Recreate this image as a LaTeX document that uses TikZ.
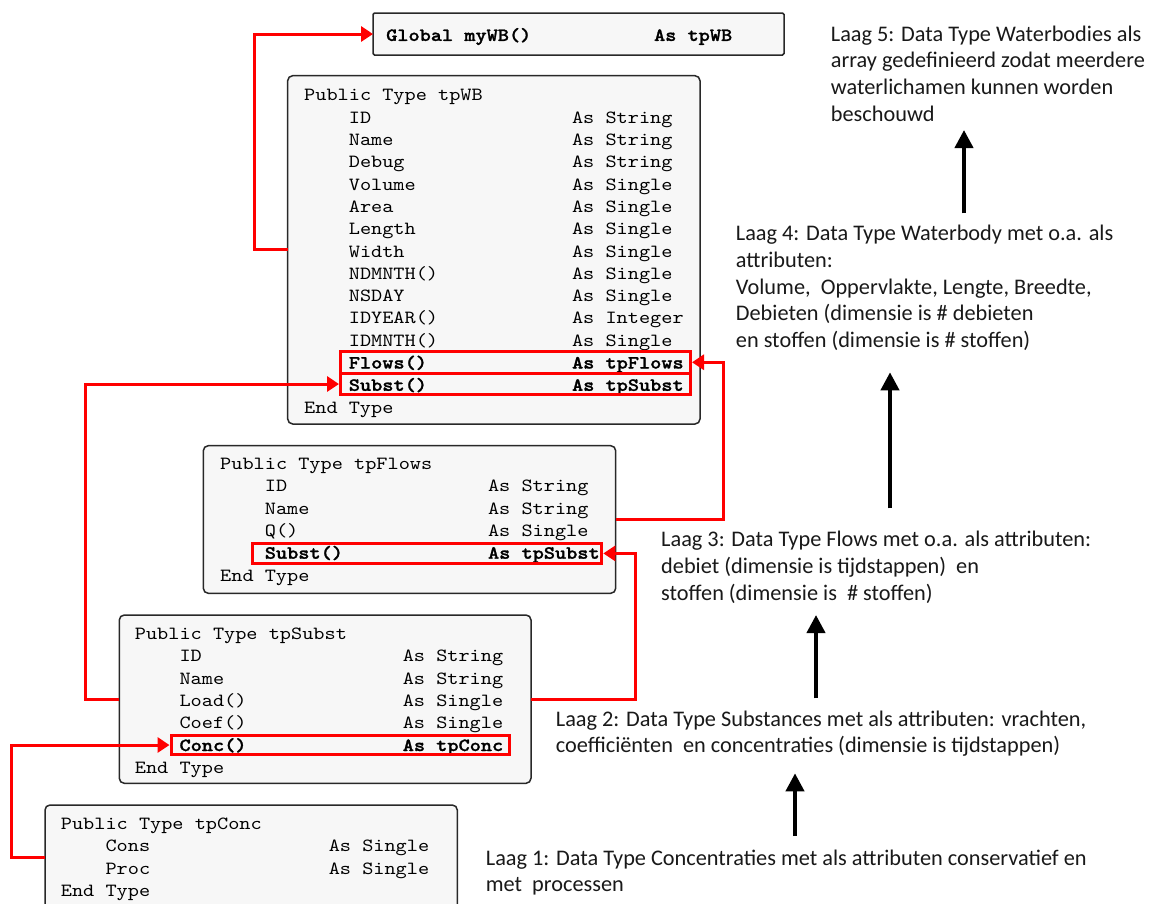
\documentclass[tikz,border=0pt]{standalone}
\usepackage{fontspec}
\setmonofont{lmmono10-regular.otf}[FakeStretch=1.143, BoldFont=lmmonolt10-bold.otf,
  BoldFeatures={FakeBold=1.3}]
\newfontfamily\notefont{Carlito}
\usetikzlibrary{arrows.meta}

\definecolor{boxfill}{RGB}{247,247,247}
\definecolor{boxline}{RGB}{40,40,40}
\definecolor{linkred}{RGB}{255,0,0}
\definecolor{notetext}{RGB}{25,25,25}

% code listing: 24-character column for the type, fields indented by 4
\newcommand\codefont{\ttfamily\fontsize{18.6}{22.3}\selectfont}
\newcommand\notesize{\notefont\fontsize{22.3}{26.6}\selectfont}
\newlength\chw
\newcommand\fld[2]{\settowidth\chw{x}\hspace*{4\chw}\makebox[20\chw][l]{#1}#2}
\newcommand\bfld[2]{\settowidth\chw{x}\hspace*{4\chw}\makebox[20\chw][l]{\bfseries #1}{\bfseries #2}}

\tikzset{
  codebox/.style={draw=boxline, fill=boxfill, line width=1.5pt, rounded corners=5pt,
    inner sep=0pt, outer sep=0pt, rectangle},
  codetext/.style={inner sep=0pt, anchor=north west, font=\codefont, text=black},
  hlbox/.style={draw=linkred, line width=3pt, inner sep=0pt, rectangle},
  redlink/.style={draw=linkred, line width=3pt,
    -{Triangle[length=12pt,width=15pt]}},
  uparrow/.style={draw=black, line width=4pt,
    -{Triangle[length=18pt,width=18pt]}},
  note/.style={inner sep=0pt, anchor=north west, font=\notesize, text=notetext},
}

\begin{document}
\begin{tikzpicture}[x=1pt, y=-1pt]
\fill[white] (0,0) rectangle (1149,903);
\clip (0,0) rectangle (1149,903);

% ---- Global declaration ----
\node[codebox, rounded corners=1.5pt, minimum width=411pt, minimum height=42pt] (glob) at (578.5,34) {};
\node[codetext] (globtxt) at (386,25.1)
  {\begin{tabular}{@{}l@{}}\settowidth\chw{x}\bfseries\makebox[24\chw][l]{Global myWB()}As tpWB\end{tabular}};

% ---- tpWB ----
\node[codebox, minimum width=412.3pt, minimum height=348.3pt] (wb) at (493.85,249.85) {};
\node[codetext] (wbtxt) at (304,85.1) {\begin{tabular}{@{}l@{}}
Public Type tpWB\\
\fld{ID}{As String}\\
\fld{Name}{As String}\\
\fld{Debug}{As String}\\
\fld{Volume}{As Single}\\
\fld{Area}{As Single}\\
\fld{Length}{As Single}\\
\fld{Width}{As Single}\\
\fld{NDMNTH()}{As Single}\\
\fld{NSDAY}{As Single}\\
\fld{IDYEAR()}{As Integer}\\
\fld{IDMNTH()}{As Single}\\
\bfld{Flows()}{As tpFlows}\\
\bfld{Subst()}{As tpSubst}\\
End Type
\end{tabular}};

% ---- tpFlows ----
\node[codebox, minimum width=412.4pt, minimum height=147.6pt] (flows) at (409.5,519.5) {};
\node[codetext] (flowstxt) at (220,453.7) {\begin{tabular}{@{}l@{}}
Public Type tpFlows\\
\fld{ID}{As String}\\
\fld{Name}{As String}\\
\fld{Q()}{As Single}\\
\bfld{Subst()}{As tpSubst}\\
End Type
\end{tabular}};

% ---- tpSubst ----
\node[codebox, minimum width=411.7pt, minimum height=168.3pt] (subst) at (325.15,699.15) {};
\node[codetext] (substtxt) at (134.7,623.7) {\begin{tabular}{@{}l@{}}
Public Type tpSubst\\
\fld{ID}{As String}\\
\fld{Name}{As String}\\
\fld{Load()}{As Single}\\
\fld{Coef()}{As Single}\\
\bfld{Conc()}{As tpConc}\\
End Type
\end{tabular}};

% ---- tpConc ----
\node[codebox, minimum width=412.3pt, minimum height=104.6pt] (conc) at (251.15,857.3) {};
\node[codetext] (conctxt) at (60.7,813.7) {\begin{tabular}{@{}l@{}}
Public Type tpConc\\
\fld{Cons}{As Single}\\
\fld{Proc}{As Single}\\
End Type
\end{tabular}};

% ---- highlighted members ----
\node[hlbox, minimum width=350pt, minimum height=22.5pt] (hlWBflows) at (515.5,362.25) {};
\node[hlbox, minimum width=350pt, minimum height=21pt] (hlWBsubst) at (515.5,384) {};
\node[hlbox, minimum width=349.3pt, minimum height=20.3pt] (hlFsubst) at (427.2,553.4) {};
\node[hlbox, minimum width=338pt, minimum height=19pt] (hlconc) at (340,745) {};

% ---- type references ----
\draw[redlink] (wb.west) -- ++(-33.4,0) |- (glob.west);
\draw[redlink] (subst.west) -- ++(-34.3,0) |- (hlWBsubst.west);
\draw[redlink] (flows.east) -- ++(107.3,0) |- (hlWBflows.east);
\draw[redlink] (subst.east) -- ++(104,0) |- (hlFsubst.east);
\draw[redlink] (conc.west) -- ++(-33.3,0) |- (hlconc.west);

% ---- layer descriptions ----
\node[note] (laag5) at (830.7,22.4) {\begin{tabular}{@{}l@{}}
Laag 5: Data Type Waterbodies als\\
array gedefinieerd zodat meerdere\\
waterlichamen kunnen worden\\
beschouwd
\end{tabular}};
\node[note] (laag4) at (735.7,222.1) {\begin{tabular}{@{}l@{}}
Laag 4: Data Type Waterbody met o.a. als\\
attributen:\\
Volume,\ \ Oppervlakte, Lengte, Breedte,\\
Debieten (dimensie is \# debieten\\
en stoffen (dimensie is \# stoffen)
\end{tabular}};
\node[note] (laag3) at (661,528.1) {\begin{tabular}{@{}l@{}}
Laag 3: Data Type Flows met o.a. als attributen:\\
debiet (dimensie is tijdstappen)\ \ en\\
stoffen (dimensie is\ \ \# stoffen)
\end{tabular}};
\node[note] (laag2) at (555.7,707.4) {\begin{tabular}{@{}l@{}}
Laag 2: Data Type Substances met als attributen: vrachten,\\
coefficiënten\ \ en concentraties (dimensie is tijdstappen)
\end{tabular}};
\node[note] (laag1) at (485.7,846.4) {\begin{tabular}{@{}l@{}}
Laag 1: Data Type Concentraties met als attributen conservatief en\\
met\ \ processen
\end{tabular}};

% ---- layer hierarchy arrows ----
\coordinate (a5from) at (964,213.3);
\coordinate (a5to) at (964,130);
\coordinate (a4from) at (890,508.3);
\coordinate (a4to) at (890,372.3);
\coordinate (a3from) at (816,698.3);
\coordinate (a3to) at (816,615);
\coordinate (a2from) at (795,836);
\coordinate (a2to) at (795,773.3);
\draw[uparrow] (a5from) -- (a5to);
\draw[uparrow] (a4from) -- (a4to);
\draw[uparrow] (a3from) -- (a3to);
\draw[uparrow] (a2from) -- (a2to);
\end{tikzpicture}
\end{document}
